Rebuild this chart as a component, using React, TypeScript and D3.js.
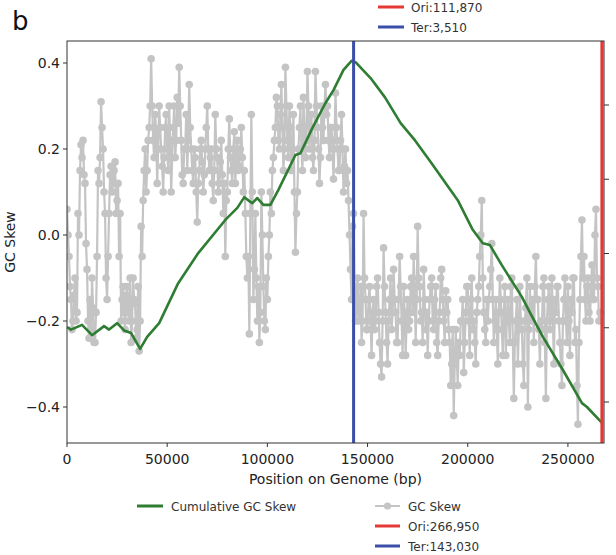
import * as d3 from 'd3'

// GC skew per 500 bp window
const WINDOW = 500
const skew = [
  0.06, 0.0, -0.05, -0.12, -0.15, -0.22, -0.2, -0.14, -0.1, -0.2, -0.18, 0.05, 0.0, 0.15, 0.21, 0.18, 0.22, 0.14, 0.12, -0.02,
  -0.08, -0.2, -0.24, -0.15, -0.22, -0.1, -0.17, -0.25, -0.25, -0.18, -0.05, 0.15, 0.12, 0.18, 0.31, 0.25, 0.2, 0.1, 0.05, -0.1,
  -0.15, -0.05, 0.05, 0.14, 0.16, 0.1, 0.12, 0.15, 0.17, 0.05, 0.08, 0.12, -0.05, 0.05, -0.2, -0.15, -0.12, -0.18, -0.22, -0.14,
  -0.12, -0.18, -0.2, -0.1, -0.25, -0.2, -0.1, -0.15, -0.16, -0.24, -0.22, -0.12, -0.27, -0.2, 0.02, -0.05, 0.08, 0.15, 0.2, 0.1,
  0.15, 0.22, 0.25, 0.3, 0.41, 0.3, 0.22, 0.18, 0.28, 0.24, 0.12, 0.2, 0.3, 0.25, 0.2, 0.16, 0.1, 0.18, 0.25, 0.28,
  0.2, 0.15, 0.3, 0.22, 0.1, 0.18, 0.25, 0.3, 0.18, 0.22, 0.32, 0.26, 0.39, 0.3, 0.22, 0.14, 0.12, 0.2, 0.2, 0.28,
  0.15, 0.22, 0.35, 0.25, 0.2, 0.15, 0.12, 0.2, 0.18, 0.1, 0.03, 0.12, 0.15, 0.2, 0.22, 0.17, 0.1, 0.14, 0.2, 0.25,
  0.3, 0.2, 0.15, 0.18, 0.2, 0.12, 0.08, 0.15, 0.28, 0.2, 0.18, 0.1, 0.12, 0.17, 0.22, 0.14, 0.05, 0.12, -0.05, 0.08,
  0.1, 0.2, 0.27, 0.18, 0.15, 0.12, 0.2, 0.24, 0.12, 0.18, 0.22, 0.15, 0.16, 0.2, 0.25, 0.18, 0.1, 0.15, 0.05, -0.05,
  -0.1, -0.05, -0.23, 0.05, 0.28, 0.1, -0.15, -0.08, 0.05, -0.1, -0.2, -0.12, -0.25, -0.18, 0.1, 0.0, -0.12, -0.2, -0.22, -0.1,
  -0.15, -0.05, 0.0, 0.1, 0.05, 0.15, 0.18, 0.22, 0.25, 0.32, 0.3, 0.22, 0.2, 0.28, 0.35, 0.25, 0.15, 0.2, 0.39, 0.3,
  0.22, 0.18, 0.3, 0.25, 0.15, 0.2, 0.28, 0.1, -0.04, 0.05, 0.1, 0.2, 0.25, 0.3, 0.2, 0.15, 0.32, 0.25, 0.18, 0.22,
  0.38, 0.3, 0.2, 0.25, 0.28, 0.18, 0.15, 0.22, 0.38, 0.3, 0.25, 0.2, 0.12, 0.18, 0.3, 0.25, 0.22, 0.3, 0.35, 0.28,
  0.3, 0.22, 0.18, 0.25, 0.25, 0.2, 0.13, 0.22, 0.33, 0.25, 0.2, 0.15, 0.15, 0.22, 0.28, 0.2, 0.1, 0.16, 0.2, 0.12,
  0.15, 0.08, 0.0, -0.08, -0.15, 0.02, 0.05, -0.12, -0.2, -0.15, -0.1, -0.2, -0.18, -0.12, -0.25, -0.2, 0.05, -0.1, -0.15, -0.22,
  -0.22, -0.15, -0.12, -0.2, -0.28, -0.18, -0.15, -0.22, -0.2, -0.12, -0.1, -0.18, -0.25, -0.3, -0.33, -0.2, -0.03, -0.12, -0.18, -0.25,
  -0.3, -0.2, -0.15, -0.1, -0.22, -0.18, -0.08, -0.15, -0.18, -0.25, -0.25, -0.15, -0.05, -0.12, -0.2, -0.28, -0.12, -0.18, -0.28, -0.2,
  -0.15, -0.22, -0.2, -0.12, -0.1, -0.18, -0.05, -0.12, -0.25, -0.15, 0.02, -0.1, -0.12, -0.2, -0.18, -0.25, -0.08, -0.15, -0.22, -0.18,
  -0.28, -0.2, -0.15, -0.12, -0.1, -0.2, -0.22, -0.15, -0.12, -0.25, -0.28, -0.2, -0.18, -0.1, -0.08, -0.15, -0.2, -0.25, -0.13, -0.18,
  -0.15, -0.22, -0.25, -0.35, -0.3, -0.22, -0.42, -0.3, -0.22, -0.28, -0.35, -0.25, -0.28, -0.2, -0.2, -0.15, -0.32, -0.25, -0.18, -0.12,
  -0.12, -0.2, -0.28, -0.15, -0.1, -0.22, -0.2, -0.25, -0.3, -0.18, -0.15, -0.12, -0.05, 0.0, 0.08, -0.1, -0.18, -0.22, -0.25, -0.15,
  -0.2, -0.15, -0.12, -0.08, -0.02, -0.15, -0.25, -0.2, -0.15, -0.22, -0.3, -0.18, -0.1, -0.15, -0.22, -0.28, -0.18, -0.12, -0.28, -0.2,
  -0.15, -0.2, -0.25, -0.12, -0.1, -0.25, -0.38, -0.25, -0.2, -0.15, -0.3, -0.22, -0.12, -0.2, -0.22, -0.3, -0.35, -0.2, -0.17, -0.1,
  -0.4, -0.22, -0.12, -0.18, -0.2, -0.15, -0.25, -0.12, -0.05, -0.15, -0.15, -0.22, -0.3, -0.2, -0.22, -0.12, -0.1, -0.25, -0.38, -0.2,
  -0.15, -0.12, -0.22, -0.18, -0.1, -0.2, -0.3, -0.15, -0.18, -0.12, -0.12, -0.2, -0.25, -0.3, -0.35, -0.2, -0.15, -0.1, -0.2, -0.25,
  -0.12, -0.2, -0.28, -0.15, -0.18, -0.1, -0.1, -0.25, -0.22, -0.35, -0.44, -0.25, -0.15, -0.05, 0.035, -0.1, -0.05, -0.15, -0.2, -0.12,
  -0.1, -0.18, -0.2, -0.12, -0.07, -0.15, -0.15, 0.0, 0.06, -0.1, -0.12, -0.2, -0.18,
]

// cumulative GC skew (in left-axis units)
const cumPos = [
  0, 2000, 7500, 12500, 18500, 21000, 25000, 28500, 32000, 36500, 40000, 46000,
  55500, 65500, 79000, 85000, 88500, 91500, 92500, 95000, 98000, 101500, 105500,
  114000, 116500, 122500, 129000, 133000, 138000, 142000, 144000, 151500, 158700,
  166500, 173700, 181500, 186000, 195000, 202500, 207500, 211000, 217000, 227000,
  231000, 237500, 247500, 257000, 259500, 267000,
]
const cumVal = [
  -0.214, -0.22, -0.209, -0.233, -0.212, -0.22, -0.205, -0.222, -0.228, -0.265, -0.237, -0.205,
  -0.112, -0.042, 0.035, 0.063, 0.088, 0.077, 0.074, 0.086, 0.07, 0.07, 0.105,
  0.186, 0.19, 0.249, 0.307, 0.337, 0.384, 0.405, 0.402, 0.365, 0.32,
  0.26, 0.22, 0.17, 0.14, 0.081, 0.012, -0.019, -0.023, -0.07, -0.144,
  -0.18, -0.237, -0.314, -0.391, -0.4, -0.437,
]

const xTicks = [0, 50000, 100000, 150000, 200000, 250000]
const yTicks = [-0.4, -0.2, 0.0, 0.2, 0.4]
const rightTicks = [0, 1, 2, 3, 4]

const ori = 266950
const ter = 143030

const topLegend = [
  { label: 'Ori:111,870', color: '#e53935' },
  { label: 'Ter:3,510', color: '#3b4ea8' },
]
const bottomLegend = [
  { label: 'Ori:266,950', color: '#e53935' },
  { label: 'Ter:143,030', color: '#3b4ea8' },
]

const GRAY = '#c4c4c4'
const GREEN = '#2e7d32'
const FONT = 'DejaVu Sans, sans-serif'

export default function App() {
  const W = 616
  const H = 555
  const left = 67, right = 604, top = 41, bottom = 443

  const x = d3.scaleLinear().domain([0, 268000]).range([left, right])
  const y = d3.scaleLinear().domain([-0.4, 0.4]).range([407, 63])
  const yR = d3.scaleLinear().domain([0, 4]).range([402, 105])

  const pts = skew.map((v, i) => ({ p: i * WINDOW, v }))
  const skewLine = d3.line<{ p: number; v: number }>().x(d => x(d.p)).y(d => y(d.v))(pts) || ''
  const cumLine = d3.line<number>().x((_, i) => x(cumPos[i])).y(d => y(d))(cumVal) || ''

  const fmtY = (v: number) => d3.format('.1f')(v).replace('-', '\u2212')

  return (
    <svg width={W} height={H} style={{ position: 'absolute', left: 0, top: 0, background: '#fff' }} fontFamily={FONT}>
      <text x={12} y={30} fontSize={26} fill="#111">b</text>

      {/* top legend */}
      {topLegend.map((d, i) => (
        <g key={d.label} transform={`translate(0,${7 + i * 20})`}>
          <line x1={378} x2={404} y1={0} y2={0} stroke={d.color} strokeWidth={3} />
          <text x={411} y={4.5} fontSize={12} fill="#333">{d.label}</text>
        </g>
      ))}

      <defs>
        <clipPath id="plot">
          <rect x={left} y={top} width={right - left} height={bottom - top} />
        </clipPath>
      </defs>

      <g clipPath="url(#plot)">
        <path d={skewLine} fill="none" stroke={GRAY} strokeWidth={2.2} />
        {pts.map((d, i) => (
          <circle key={i} cx={x(d.p)} cy={y(d.v)} r={3.8} fill={GRAY} />
        ))}
        <path d={cumLine} fill="none" stroke={GREEN} strokeWidth={2.6} strokeLinejoin="round" />
      </g>
      <line x1={x(ter)} x2={x(ter)} y1={top} y2={bottom} stroke="#3b4ea8" strokeWidth={3} />
      <line x1={x(ori)} x2={x(ori)} y1={top} y2={bottom} stroke="#e53935" strokeWidth={3} />

      {/* frame */}
      <rect x={left} y={top} width={right - left} height={bottom - top} fill="none" stroke="#333" strokeWidth={1} />

      {/* left axis */}
      {yTicks.map(t => (
        <g key={t}>
          <line x1={left - 4} x2={left} y1={y(t)} y2={y(t)} stroke="#333" />
          <text x={left - 7} y={y(t) + 5} textAnchor="end" fontSize={14} fill="#222">{fmtY(t)}</text>
        </g>
      ))}
      <text transform={`translate(15,${(top + bottom) / 2}) rotate(-90)`} textAnchor="middle" fontSize={14} fill="#222">GC Skew</text>

      {/* right axis (labels fall outside the canvas) */}
      {rightTicks.map(t => (
        <line key={t} x1={right} x2={right + 5} y1={yR(t)} y2={yR(t)} stroke="#333" />
      ))}

      {/* bottom axis */}
      {xTicks.map(t => (
        <g key={t}>
          <line x1={x(t)} x2={x(t)} y1={bottom} y2={bottom + 4} stroke="#333" />
          <text x={x(t)} y={bottom + 21} textAnchor="middle" fontSize={14} fill="#222">{t}</text>
        </g>
      ))}
      <text x={(left + right) / 2} y={484} textAnchor="middle" fontSize={14} fill="#222">Position on Genome (bp)</text>

      {/* bottom legend */}
      <line x1={137} x2={163} y1={506} y2={506} stroke={GREEN} strokeWidth={3} />
      <text x={171} y={510.5} fontSize={12} fill="#333">Cumulative GC Skew</text>
      <line x1={375} x2={400} y1={506} y2={506} stroke={GRAY} strokeWidth={2} />
      <circle cx={387.5} cy={506} r={3.6} fill={GRAY} />
      <text x={408} y={510.5} fontSize={12} fill="#333">GC Skew</text>
      {bottomLegend.map((d, i) => (
        <g key={d.label} transform={`translate(0,${526 + i * 20})`}>
          <line x1={375} x2={400} y1={0} y2={0} stroke={d.color} strokeWidth={3} />
          <text x={408} y={4.5} fontSize={12} fill="#333">{d.label}</text>
        </g>
      ))}
    </svg>
  )
}
